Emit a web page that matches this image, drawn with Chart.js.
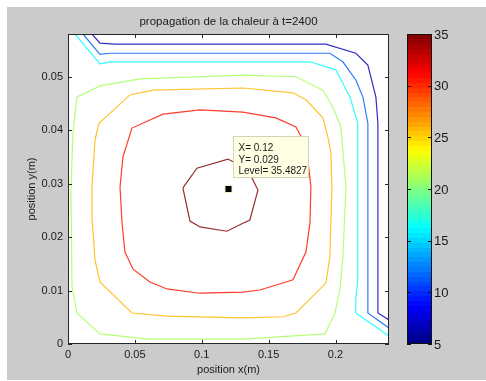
<!DOCTYPE html>
<html>
<head>
<meta charset="utf-8">
<script src="https://cdn.jsdelivr.net/npm/chart.js@4.4.1/dist/chart.umd.min.js"></script>
<style>
html,body{margin:0;padding:0;background:#fff;}
canvas{display:block;}
</style>
</head>
<body>
<canvas id="c" width="486" height="381"></canvas>
<script>
// ---- data ----
const titleText = "propagation de la chaleur à t=2400";
const xLabel = "position x(m)";
const yLabel = "position y(m)";
const xTicks = [0, 0.05, 0.1, 0.15, 0.2];
const yTicks = [0, 0.01, 0.02, 0.03, 0.04, 0.05];
const cbTicks = [5, 10, 15, 20, 25, 30, 35];
const xRange = [0, 0.24];
const yRange = [0, 0.058];

const contourLevels = [6.7, 11.5, 16.3, 21.1, 25.9, 30.7, 35.4827];

const c1x = [0.0179, 0.0239, 0.0351, 0.1928, 0.2152, 0.2242, 0.2302, 0.2317, 0.2317, 0.2399];
const c1y = [0.058, 0.0563, 0.0561, 0.0561, 0.0544, 0.0522, 0.0462, 0.0413, 0.0058, 0.0045];

const c2x = [0.0112, 0.0239, 0.0314, 0.1958, 0.2055, 0.2152, 0.2205, 0.2242, 0.2242, 0.2399];
const c2y = [0.058, 0.0542, 0.0544, 0.0544, 0.0528, 0.0494, 0.0462, 0.0413, 0.0058, 0.0030];

const c3x = [0.0052, 0.0239, 0.0314, 0.1809, 0.2003, 0.2108, 0.2167, 0.2167, 0.2152, 0.2152, 0.2399];
const c3y = [0.058, 0.0524, 0.0528, 0.0528, 0.0513, 0.0462, 0.0413, 0.0120, 0.0088, 0.0058, 0.0015];

const c4x = [0.0067, 0.0239, 0.0538, 0.1308, 0.1704, 0.1906, 0.1981, 0.2040, 0.2078, 0.2055, 0.2033, 0.1996, 0.1921, 0.1308, 0.0598, 0.0239, 0.0067, 0.0030, 0.0022, 0.0037];
const c4y = [0.0462, 0.0483, 0.0496, 0.0503, 0.0500, 0.0475, 0.0443, 0.0406, 0.0294, 0.0163, 0.0101, 0.0058, 0.0019, 0.0009, 0.0009, 0.0019, 0.0058, 0.0107, 0.0288, 0.0395];

const c5x = [0.0179, 0.0202, 0.0232, 0.0463, 0.0635, 0.1308, 0.1682, 0.1779, 0.1906, 0.1943, 0.1966, 0.1973, 0.1958, 0.1928, 0.1704, 0.1607, 0.1308, 0.0740, 0.0478, 0.0239, 0.0202, 0.0179];
const c5y = [0.0294, 0.0382, 0.0413, 0.0466, 0.0475, 0.0479, 0.0470, 0.0457, 0.0423, 0.0387, 0.0357, 0.0294, 0.0163, 0.0114, 0.0058, 0.0051, 0.0049, 0.0052, 0.0058, 0.0116, 0.0157, 0.0238];

const c6x = [0.0389, 0.0411, 0.0478, 0.0710, 0.0987, 0.1308, 0.1554, 0.1704, 0.1756, 0.1794, 0.1816, 0.1809, 0.1779, 0.1682, 0.1435, 0.1308, 0.0987, 0.0740, 0.0613, 0.0486, 0.0426, 0.0404];
const c6y = [0.0294, 0.0350, 0.0404, 0.0430, 0.0438, 0.0434, 0.0423, 0.0406, 0.0382, 0.0344, 0.0294, 0.0226, 0.0172, 0.0120, 0.0101, 0.0097, 0.0095, 0.0103, 0.0116, 0.0140, 0.0172, 0.0226];

const c7x = [0.0859, 0.0964, 0.1196, 0.1345, 0.1420, 0.1360, 0.1308, 0.1188, 0.0987, 0.0912];
const c7y = [0.0292, 0.0329, 0.0346, 0.0326, 0.0288, 0.0232, 0.0226, 0.0211, 0.0219, 0.0230];

const contourClosed = [false, false, false, true, true, true, true];

const tipX = 0.12;
const tipY = 0.029;
const tipLevel = 35.4827;

// ---- helpers ----
const clamp01 = v => Math.max(0, Math.min(1, v));
function jetRGB(t) {
  t = clamp01(t);
  return [clamp01(1.5 - Math.abs(4 * t - 3)), clamp01(1.5 - Math.abs(4 * t - 2)), clamp01(1.5 - Math.abs(4 * t - 1))];
}
function rgbStr(c, w) {
  w = w || 0;
  return 'rgb(' + c.map(v => Math.round((v * (1 - w) + w) * 255)).join(',') + ')';
}
const jet = t => rgbStr(jetRGB(t));
const cMin = cbTicks[0], cMax = cbTicks[cbTicks.length - 1];
const levelColor = l => rgbStr(jetRGB((l - cMin) / (cMax - cMin)), 0.18);

const contourXs = [c1x, c2x, c3x, c4x, c5x, c6x, c7x];
const contourYs = [c1y, c2y, c3y, c4y, c5y, c6y, c7y];

const datasets = contourXs.map((xs, i) => {
  const pts = xs.map((x, j) => ({ x: x, y: contourYs[i][j] }));
  if (contourClosed[i]) pts.push(pts[0]);
  return {
    data: pts, showLine: true, borderColor: levelColor(contourLevels[i]),
    borderWidth: 1.2, pointRadius: 0, fill: false, tension: 0,
    xAxisID: 'x', yAxisID: 'y'
  };
});
datasets.push({
  data: [{ x: tipX, y: tipY }], showLine: false, pointStyle: 'rect',
  pointRadius: 5, backgroundColor: '#000', borderColor: '#f4f4d0', borderWidth: 1,
  xAxisID: 'x', yAxisID: 'y'
});

const FONT = '"Liberation Sans", Arial, sans-serif';
const TXT = '#1a1a1a';

const matlabPlugin = {
  id: 'matlab',
  beforeDraw(chart) {
    const ctx = chart.ctx, a = chart.chartArea;
    ctx.save();
    ctx.fillStyle = '#fff';
    ctx.fillRect(0, 0, chart.width, chart.height);
    ctx.fillStyle = '#cbcbcb';
    ctx.fillRect(7, 7, chart.width - 7, 373);
    ctx.fillStyle = '#fff';
    ctx.fillRect(a.left, a.top, a.right - a.left, a.bottom - a.top);
    // title & axis titles
    ctx.fillStyle = TXT;
    ctx.textAlign = 'center';
    ctx.textBaseline = 'middle';
    const cx = (a.left + a.right) / 2, cy = (a.top + a.bottom) / 2;
    ctx.font = '11.5px ' + FONT;
    ctx.fillText(titleText, cx, 22);
    ctx.font = '11px ' + FONT;
    ctx.fillText(xLabel, cx, 370);
    ctx.translate(32, cy);
    ctx.rotate(-Math.PI / 2);
    ctx.fillText(yLabel, 0, 0);
    ctx.restore();
  },
  afterDatasetsDraw(chart) {
    const ctx = chart.ctx, a = chart.chartArea;
    const xs = chart.scales.x, ys = chart.scales.y, cb = chart.scales.cb;
    ctx.save();
    // axes box
    ctx.strokeStyle = '#262626';
    ctx.lineWidth = 1;
    ctx.strokeRect(a.left + 0.5, a.top + 0.5, a.right - a.left - 1, a.bottom - a.top - 1);
    ctx.beginPath();
    xTicks.forEach(v => {
      const p = Math.round(xs.getPixelForValue(v)) + 0.5;
      ctx.moveTo(p, a.bottom); ctx.lineTo(p, a.bottom - 4);
      ctx.moveTo(p, a.top); ctx.lineTo(p, a.top + 4);
    });
    yTicks.forEach(v => {
      const p = Math.round(ys.getPixelForValue(v)) + 0.5;
      ctx.moveTo(a.left, p); ctx.lineTo(a.left + 4, p);
      ctx.moveTo(a.right, p); ctx.lineTo(a.right - 4, p);
    });
    ctx.stroke();

    // colorbar
    const bx0 = cb.left + 18, bx1 = cb.left + 43;
    const n = 64;
    for (let i = 0; i < n; i++) {
      const v0 = cMin + (cMax - cMin) * i / n, v1 = cMin + (cMax - cMin) * (i + 1) / n;
      const p0 = cb.getPixelForValue(v0), p1 = cb.getPixelForValue(v1);
      ctx.fillStyle = jet((i + 0.5) / n);
      ctx.fillRect(bx0, Math.floor(p1), bx1 - bx0, Math.ceil(p0) - Math.floor(p1));
    }
    ctx.strokeStyle = '#111';
    ctx.strokeRect(bx0 + 0.5, cb.top + 0.5, bx1 - bx0 - 1, cb.bottom - cb.top - 1);
    ctx.beginPath();
    cbTicks.forEach(v => {
      const p = Math.round(cb.getPixelForValue(v)) + 0.5;
      ctx.moveTo(bx0, p); ctx.lineTo(bx0 + 4, p);
      ctx.moveTo(bx1, p); ctx.lineTo(bx1 - 4, p);
    });
    ctx.stroke();
    ctx.fillStyle = TXT;
    ctx.font = '13px ' + FONT;
    ctx.textAlign = 'left';
    ctx.textBaseline = 'middle';
    cbTicks.forEach(v => {
      ctx.fillText(String(v), bx1 + 2, cb.getPixelForValue(v) + 1);
    });

    // data tip
    const px = xs.getPixelForValue(tipX), py = ys.getPixelForValue(tipY);
    const bx = Math.round(px + 4) + 0.5, by = Math.round(py - 53) + 0.5;
    ctx.fillStyle = '#ffffe4';
    ctx.strokeStyle = '#d4d4b8';
    ctx.fillRect(bx, by, 75, 41);
    ctx.strokeRect(bx, by, 75, 41);
    ctx.fillStyle = TXT;
    ctx.font = '10px ' + FONT;
    ctx.textBaseline = 'middle';
    ctx.fillText('X= ' + tipX, bx + 5, by + 11.5);
    ctx.fillText('Y= ' + tipY, bx + 5, by + 23.5);
    ctx.fillText('Level= ' + tipLevel, bx + 5, by + 35);
    ctx.restore();
  }
};

new Chart(document.getElementById('c'), {
  type: 'scatter',
  data: { datasets: datasets },
  options: {
    responsive: false,
    animation: false,
    devicePixelRatio: 1,
    events: [],
    layout: { padding: { top: 34, left: 0, right: 0, bottom: 0 } },
    plugins: { legend: { display: false }, tooltip: { enabled: false }, title: { display: false } },
    scales: {
      x: {
        type: 'linear', position: 'bottom', min: xRange[0], max: xRange[1],
        grid: { display: false, drawTicks: false }, border: { display: false },
        ticks: { padding: 4, color: TXT, font: { family: FONT, size: 11 }, callback: v => String(v), maxRotation: 0 },
        afterBuildTicks: s => { s.ticks = xTicks.map(v => ({ value: v })); },
        afterFit: s => { s.height = 37; }
      },
      y: {
        type: 'linear', position: 'left', min: yRange[0], max: yRange[1],
        grid: { display: false, drawTicks: false }, border: { display: false },
        ticks: { padding: 5, color: TXT, font: { family: FONT, size: 11 }, callback: v => String(v) },
        afterBuildTicks: s => { s.ticks = yTicks.map(v => ({ value: v })); },
        afterFit: s => { s.width = 68; }
      },
      cb: {
        type: 'linear', axis: 'y', position: 'right', min: cMin, max: cMax,
        grid: { display: false, drawTicks: false }, border: { display: false },
        ticks: { display: false },
        afterFit: s => { s.width = 97; }
      }
    }
  },
  plugins: [matlabPlugin]
});
</script>
</body>
</html>
